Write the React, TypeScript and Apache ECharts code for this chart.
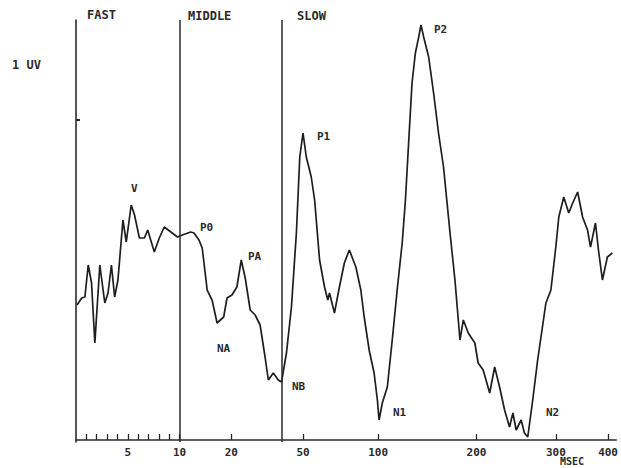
import React, { useEffect, useRef } from "react";
import * as echarts from "echarts";

// Axis scale: latency (ms) anchors and their place along the broken time axis
const AXIS_MS = [0, 10, 20, 50, 100, 200, 300, 400];
const AXIS_UNITS = [0, 104.5, 156.7, 229, 304.7, 404, 484, 536.7];
const AXIS_MAX_UNITS = 545;

const MAJOR_TICKS_MS = [10, 20, 50, 100, 200, 300, 400];
const MINOR_TICKS_MS = [1, 2, 3, 4, 5, 6, 7, 8, 9];
const LABELED_TICKS_MS = [5, 10, 20, 50, 100, 200, 300, 400];
const SECTION_LINES_MS = [10, 41];

// Waveform: latency (ms) and amplitude (uV)
const LATENCY_MS = [
  0.1, 0.55, 0.86, 1.18, 1.5, 1.82, 2.3, 2.78, 3.09, 3.42, 3.73, 4.05, 4.53, 4.85, 5.33, 5.65,
  6.12, 6.6, 6.92, 7.56, 8.04, 8.52, 9.16, 9.79,
  10.54, 12.15, 12.78, 13.74, 14.37, 15.33, 16.28, 17.24, 18.52, 19.16,
  20.25, 22.32, 24.15, 25.81, 27.89, 29.96, 32.04, 34.11, 35.48, 37.55, 39.63, 41.0,
  43.07, 45.15, 47.22, 48.64,
  50.0, 52.18, 55.48, 57.73, 61.03, 64.33, 66.51, 67.64, 70.94, 74.24, 77.54, 80.85,
  85.2, 88.51, 90.75, 94.06, 97.36, 99.54,
  101.0, 104.3, 109.4, 114.4, 119.4, 124.5, 127.8, 131.2, 134.5, 137.9, 141.3, 143.6,
  146.3, 151.4, 156.4, 161.4, 166.5, 169.8, 173.1, 178.1, 183.2, 186.6, 191.6, 198.3,
  202.1, 208.4, 216.6, 222.9, 229.1, 235.4, 241.6, 245.9, 250.0, 256.3, 260.4, 264.6,
  270.9, 277.1, 287.5, 293.8, 300.0,
  305.7, 315.2, 324.7, 332.3, 341.8, 351.2, 360.7, 366.4, 375.9, 381.6, 389.2, 398.7, 408.2,
];
const AMPLITUDE_UV = [
  1.35, 1.42, 1.43, 1.75, 1.57, 0.97, 1.75, 1.37, 1.47, 1.75, 1.43, 1.6, 2.2, 1.98, 2.35, 2.25,
  2.02, 2.02, 2.1, 1.88, 2.02, 2.13, 2.08, 2.03,
  2.05, 2.08, 2.07, 2.0, 1.92, 1.5, 1.4, 1.17, 1.23, 1.42,
  1.45, 1.53, 1.8, 1.62, 1.3, 1.25, 1.15, 0.83, 0.6, 0.67, 0.6, 0.58,
  0.87, 1.33, 2.07, 2.83,
  3.07, 2.83, 2.63, 2.4, 1.8, 1.53, 1.4, 1.47, 1.27, 1.53, 1.77, 1.9,
  1.73, 1.5, 1.23, 0.9, 0.67, 0.4,
  0.2, 0.37, 0.53, 1.0, 1.5, 1.97, 2.4, 3.0, 3.57, 3.87, 4.03, 4.15,
  4.03, 3.83, 3.47, 3.07, 2.73, 2.4, 2.07, 1.6, 1.0, 1.2, 1.07, 0.97,
  0.77, 0.7, 0.47, 0.73, 0.53, 0.3, 0.13, 0.27, 0.1, 0.2, 0.07, 0.03,
  0.4, 0.8, 1.37, 1.5, 1.93,
  2.23, 2.43, 2.27, 2.37, 2.48, 2.23, 2.1, 1.93, 2.17, 1.9, 1.6, 1.83, 1.87,
];

const SECTION_NAMES = ["FAST", "MIDDLE", "SLOW"];
const PEAK_NAMES = ["V", "P0", "PA", "NA", "NB", "P1", "N1", "P2", "N2"];
const SCALE_LABEL = "1 UV";
const SCALE_MARK_UV = [3.2];
const UNIT_LABEL = "MSEC";

function toUnits(ms: number): number {
  for (let i = 0; i < AXIS_MS.length - 1; i++) {
    if (ms <= AXIS_MS[i + 1] || i === AXIS_MS.length - 2) {
      const t = (ms - AXIS_MS[i]) / (AXIS_MS[i + 1] - AXIS_MS[i]);
      return AXIS_UNITS[i] + t * (AXIS_UNITS[i + 1] - AXIS_UNITS[i]);
    }
  }
  return 0;
}

const FONT = "'DejaVu Sans Mono', monospace";
const INK = "#2a2a2a";

export default function App() {
  const ref = useRef<HTMLDivElement>(null);
  useEffect(() => {
    if (!ref.current) return;
    const chart = echarts.init(ref.current, null, { renderer: "svg" });
    const labelUnits = LABELED_TICKS_MS.map(toUnits);
    const tickUnits = [...MINOR_TICKS_MS, ...MAJOR_TICKS_MS].map(toUnits);
    const data = LATENCY_MS.map((ms, i) => [toUnits(ms), AMPLITUDE_UV[i]]);

    const sectionPos = [
      { x: 87, y: 9 },
      { x: 188, y: 10 },
      { x: 297, y: 10 },
    ];
    const peakPos = [
      { x: 131, y: 183 },
      { x: 200, y: 222 },
      { x: 248, y: 251 },
      { x: 217, y: 343 },
      { x: 292, y: 381 },
      { x: 317, y: 131 },
      { x: 393, y: 407 },
      { x: 434, y: 24 },
      { x: 546, y: 407 },
    ];
    const textStyle = (text: string, size: number) => ({
      text,
      fill: INK,
      font: `bold ${size}px ${FONT}`,
    });

    chart.setOption({
      animation: false,
      backgroundColor: "#ffffff",
      grid: { left: 76, right: 0, top: 20, bottom: 26 },
      xAxis: {
        type: "value",
        min: 0,
        max: AXIS_MAX_UNITS,
        axisLine: { show: true, lineStyle: { color: INK, width: 1.6 } },
        axisTick: {
          show: true,
          inside: true,
          length: 6,
          customValues: tickUnits,
          lineStyle: { color: INK, width: 1.3 },
        },
        axisLabel: {
          show: true,
          customValues: labelUnits,
          margin: 5,
          color: INK,
          fontFamily: FONT,
          fontSize: 11,
          fontWeight: "bold",
          formatter: (v: number) => {
            const idx = labelUnits.findIndex((u) => Math.abs(u - v) < 0.01);
            return idx >= 0 ? String(LABELED_TICKS_MS[idx]) : "";
          },
        },
        splitLine: { show: false },
      },
      yAxis: {
        type: "value",
        min: -0.02,
        max: 4.2,
        axisLine: { show: true, lineStyle: { color: INK, width: 1.6 } },
        axisTick: {
          show: true,
          inside: true,
          length: 4,
          customValues: SCALE_MARK_UV,
          lineStyle: { color: INK, width: 2 },
        },
        axisLabel: { show: false },
        splitLine: { show: false },
      },
      series: [
        {
          type: "line",
          data,
          showSymbol: false,
          symbol: "none",
          lineStyle: { color: "#1e1e1e", width: 1.7 },
          markLine: {
            silent: true,
            symbol: ["none", "none"],
            label: { show: false },
            lineStyle: { color: INK, width: 1.5, type: "solid" },
            data: SECTION_LINES_MS.map((ms) => ({ xAxis: toUnits(ms) })),
          },
        },
      ],
      graphic: [
        ...SECTION_NAMES.map((t, i) => ({
          type: "text",
          x: sectionPos[i].x,
          y: sectionPos[i].y,
          style: textStyle(t, 12),
        })),
        ...PEAK_NAMES.map((t, i) => ({
          type: "text",
          x: peakPos[i].x,
          y: peakPos[i].y,
          style: textStyle(t, 11),
        })),
        { type: "text", x: 12, y: 59, style: textStyle(SCALE_LABEL, 12) },
        { type: "text", x: 560, y: 456, style: textStyle(UNIT_LABEL, 10) },
      ],
    });
    return () => chart.dispose();
  }, []);
  return (
    <div
      ref={ref}
      style={{ position: "fixed", left: 0, top: 0, width: 621, height: 468, background: "#fff" }}
    />
  );
}
